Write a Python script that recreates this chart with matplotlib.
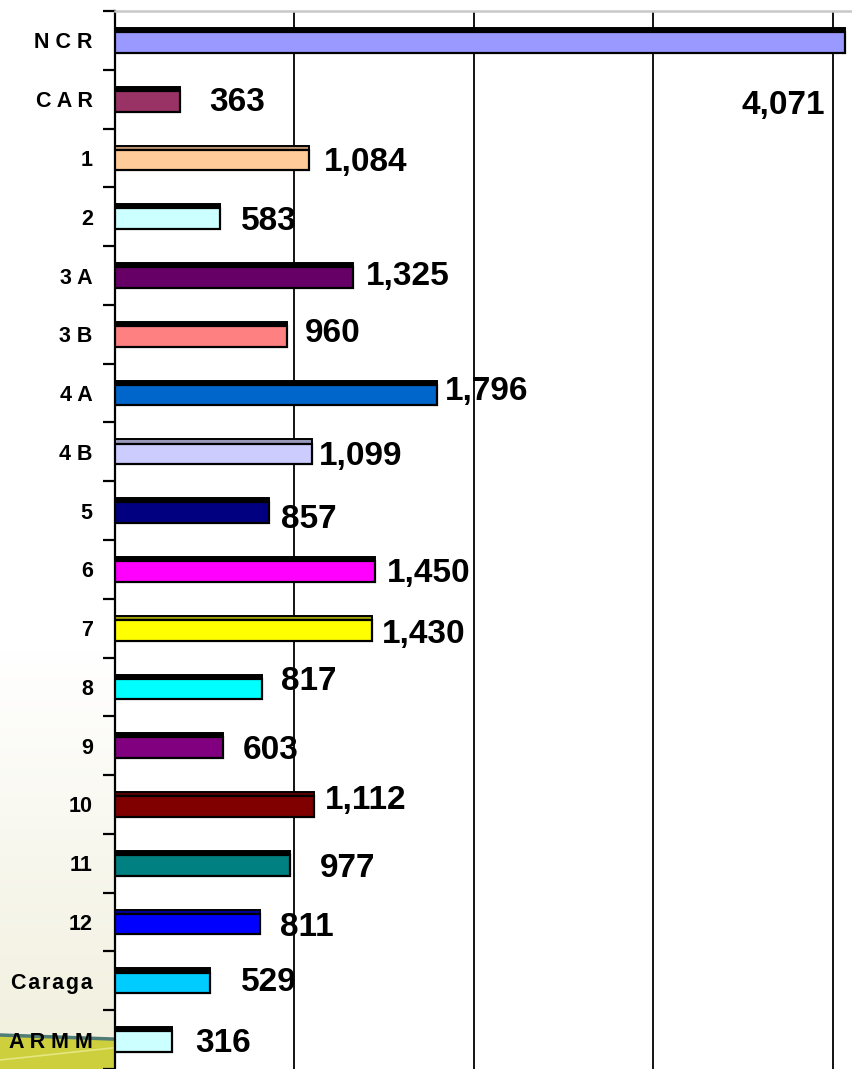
import numpy as np
import matplotlib
matplotlib.use('Agg')
import matplotlib.pyplot as plt
from matplotlib.colors import to_rgb

# regions, top to bottom
REGIONS = ['N C R', 'C A R', '1', '2', '3 A', '3 B', '4 A', '4 B', '5',
           '6', '7', '8', '9', '10', '11', '12',
           'C\u200aa\u200ar\u200aa\u200ag\u200aa', 'A R M M']
VALUES = [4071, 363, 1084, 583, 1325, 960, 1796, 1099, 857,
          1450, 1430, 817, 603, 1112, 977, 811, 529, 316]
COLORS = ['#9999FF', '#993366', '#FFCC99', '#CCFFFF', '#660066', '#FF8080',
          '#0066CC', '#CCCCFF', '#000080', '#FF00FF', '#FFFF00', '#00FFFF',
          '#800080', '#800000', '#008080', '#0000FF', '#00CCFF', '#CCFFFF']
# shaded top strip (3d look) on some bars, black on the rest
STRIPS = {'1': '#C09670', '4 B': '#9898B8', '7': '#A0A000',
          '10': '#5A0000', '12': '#0000A0'}

# hand placed value labels: (dx, dy) in pixels from bar end / row centre
LABEL_OFFSETS = [(-102, 74), (31, 12), (16, 13), (23, 13), (15, 9), (20, 8),
                 (10, 7), (9, 13), (14, 17), (14, 13), (12, 15), (21, 3),
                 (22, 13), (12, 5), (32, 14), (22, 14), (33, 10), (26, 12)]

FONT = ['Liberation Sans', 'DejaVu Sans']

W, H = 853, 1069
fig = plt.figure(figsize=(W / 100, H / 100), dpi=100)

# slide background in the lower left corner
bg = fig.add_axes([0, 0, 1, 1], zorder=-5)
bg.set_xlim(0, W)
bg.set_ylim(H, 0)
bg.axis('off')
t = np.clip((np.arange(H) - 650) / 380.0, 0, 1)[:, None]
top = np.array(to_rgb('#FFFFFF'))
bot = np.array(to_rgb('#F2F0DF'))
grad = (top * (1 - t) + bot * t)[:, None, :].repeat(2, axis=1)
bg.imshow(grad, extent=(0, W, H, 0), aspect='auto')
bg.fill([0, 140, 140, 0], [1035, 1040, H, H], color='#CDD03C', lw=0)
bg.plot([0, 140], [1035, 1040], color='#4F7C77', lw=2.5)
bg.plot([0, 140], [1060, 1045], color='#E4E680', lw=1.2)

ax = fig.add_axes([115 / W, 0, (W - 115) / W, (H - 11) / H])
ax.set_facecolor('white')

n = len(VALUES)
y = np.arange(n)
total_h, strip_h = 0.42, 0.07
body_h = total_h - strip_h

strip_cols = [STRIPS.get(r, 'black') for r in REGIONS]
ax.barh(y - total_h / 2 + strip_h / 2, VALUES, height=strip_h,
        color=strip_cols, edgecolor='black', linewidth=1.4, zorder=3)
ax.barh(y + strip_h / 2, VALUES, height=body_h, color=COLORS,
        edgecolor='black', linewidth=1.6, zorder=3)

for i, v in enumerate(VALUES):
    dx, dy = LABEL_OFFSETS[i]
    ax.annotate(f'{v:,}', (v, i), xytext=(dx - 2, -dy),
                textcoords='offset pixels', ha='left', va='baseline',
                family=FONT, fontweight='bold', fontsize=24,
                color='black', zorder=5, annotation_clip=False)

ax.set_xlim(0, (W - 115) / 0.1794)
ax.set_ylim(n - 0.5, -0.5)

ax.set_xticks([1000, 2000, 3000, 4000])
ax.tick_params(axis='x', length=0, labelbottom=False)
ax.grid(axis='x', color='black', linewidth=1.3, zorder=1)

ax.set_yticks(np.arange(-0.5, n), labels=[])
ax.set_yticks(y, labels=REGIONS, minor=True)
ax.tick_params(axis='y', which='major', length=9, width=1.6,
               direction='out', color='black')
ax.tick_params(axis='y', which='minor', length=0, pad=16)
for lab in ax.get_yticklabels(minor=True):
    lab.set_family(FONT)
    lab.set_fontweight('bold')
    lab.set_fontsize(15.5)

ax.spines['left'].set_linewidth(1.6)
ax.spines['left'].set_color('black')
ax.spines['top'].set_color('#C8C8C8')
ax.spines['top'].set_linewidth(1.8)
ax.spines['right'].set_visible(False)
ax.spines['bottom'].set_visible(False)

fig.savefig('out.png', dpi=100)
